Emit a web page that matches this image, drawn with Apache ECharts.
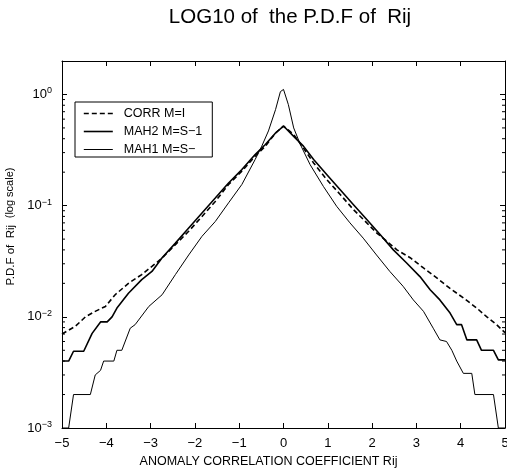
<!DOCTYPE html>
<html>
<head>
<meta charset="utf-8">
<script src="https://cdn.jsdelivr.net/npm/echarts@6/dist/echarts.min.js"></script>
<style>
  html, body { margin: 0; padding: 0; background: #fff; }
  #chart { width: 507px; height: 470px; }
</style>
</head>
<body>
<div id="chart"></div>
<script>
const FONT = 'Liberation Sans';

// [Rij, pdf] pairs
const corrPdf = [
  [-5, 0.007], [-4.7, 0.0082], [-4.47, 0.010], [-4.25, 0.0112], [-4.02, 0.0124],
  [-3.8, 0.0158], [-3.5, 0.020], [-3.2, 0.024], [-2.97, 0.0284], [-2.74, 0.0338],
  [-2.44, 0.0446], [-2.14, 0.0588], [-1.84, 0.080], [-1.54, 0.109], [-1.24, 0.155],
  [-0.94, 0.204], [-0.64, 0.278], [-0.41, 0.343], [-0.18, 0.45], [0, 0.52],
  [0.23, 0.436], [0.45, 0.33], [0.68, 0.242], [0.98, 0.171], [1.28, 0.126],
  [1.58, 0.092], [1.88, 0.070], [2.1, 0.057], [2.33, 0.048], [2.56, 0.040],
  [2.86, 0.034], [3.16, 0.0275], [3.46, 0.0224], [3.76, 0.018], [4.06, 0.0148],
  [4.36, 0.012], [4.59, 0.010], [4.81, 0.0085], [5, 0.0072]
];

const mah2Pdf = [
  [-5, 0.004], [-4.85, 0.004], [-4.74, 0.0049], [-4.51, 0.0049], [-4.32, 0.0071],
  [-4.13, 0.009], [-3.98, 0.009], [-3.87, 0.010], [-3.76, 0.012], [-3.5, 0.0163],
  [-3.2, 0.0216], [-2.97, 0.0256], [-2.74, 0.034], [-2.44, 0.046], [-2.14, 0.063],
  [-1.84, 0.086], [-1.54, 0.117], [-1.24, 0.16], [-0.94, 0.211], [-0.64, 0.288],
  [-0.41, 0.355], [-0.18, 0.45], [0, 0.52],
  [0.23, 0.42], [0.45, 0.343], [0.68, 0.26], [0.98, 0.19], [1.28, 0.139],
  [1.58, 0.102], [1.88, 0.075], [2.18, 0.055], [2.48, 0.040], [2.78, 0.0305],
  [3.08, 0.023], [3.31, 0.0175], [3.53, 0.0142], [3.76, 0.0108], [3.91, 0.0085],
  [4.02, 0.0085], [4.14, 0.0062], [4.36, 0.0062], [4.47, 0.005], [4.74, 0.005],
  [4.85, 0.0041], [5, 0.0041]
];

const mah1Pdf = [
  [-5, 0.001], [-4.85, 0.001], [-4.74, 0.002], [-4.36, 0.002], [-4.25, 0.003],
  [-4.13, 0.0033], [-4.06, 0.004], [-3.83, 0.004], [-3.76, 0.005], [-3.65, 0.005],
  [-3.46, 0.0079], [-3.35, 0.0085], [-3.04, 0.0124], [-2.74, 0.0158], [-2.44, 0.024],
  [-2.14, 0.036], [-1.84, 0.053], [-1.54, 0.072], [-1.24, 0.106], [-0.94, 0.155],
  [-0.64, 0.26], [-0.49, 0.343], [-0.34, 0.47], [-0.18, 0.73], [-0.07, 1.06], [0, 1.11],
  [0.11, 0.81], [0.23, 0.5], [0.38, 0.355], [0.6, 0.234], [0.9, 0.149],
  [1.2, 0.0986], [1.5, 0.070], [1.8, 0.051], [2.1, 0.036], [2.4, 0.0256],
  [2.7, 0.0188], [2.93, 0.0142], [3.16, 0.0112], [3.38, 0.0079], [3.53, 0.0062],
  [3.68, 0.006], [3.8, 0.005], [3.91, 0.004], [4.06, 0.0031], [4.25, 0.0031],
  [4.32, 0.002], [4.74, 0.002], [4.85, 0.001], [5, 0.001]
];

const seriesNames = ['CORR M=I', 'MAH2 M=S\u22121', 'MAH1 M=S\u2212'];
const lineStyles = [
  { color: '#000', width: 1.6, type: [5, 3] },
  { color: '#000', width: 1.6, type: 'solid' },
  { color: '#000', width: 1, type: 'solid' }
];

// minor tick positions of the log axis (2..9 x 10^k)
const minorTicks = [];
for (let k = -3; k <= 0; k++) {
  for (let m = 2; m <= 9; m++) {
    const v = m * Math.pow(10, k);
    if (v < 2) minorTicks.push([-5, v]);
  }
}

const minus = s => String(s).replace('-', '\u2212');

function logLabel(v) {
  const e = Math.log10(v);
  const r = Math.round(e);
  if (Math.abs(e - r) > 1e-6) return '';
  return '{b|10}{s|' + minus(r) + '}';
}

const chart = echarts.init(document.getElementById('chart'), null, { renderer: 'canvas' });

const axisLine = { show: true, onZero: false, lineStyle: { color: '#000', width: 1 } };
const tickIn = { show: true, inside: true, length: 5, lineStyle: { color: '#000', width: 1 } };

chart.setOption({
  animation: false,
  backgroundColor: '#fff',
  textStyle: { fontFamily: FONT, color: '#000' },
  title: {
    text: 'LOG10 of  the P.D.F of  Rij',
    left: 285,
    top: 2,
    textAlign: 'center',
    textStyle: { fontFamily: FONT, fontSize: 20.5, fontWeight: 'normal', color: '#000' }
  },
  legend: {
    data: seriesNames.map((n, i) => ({ name: n, lineStyle: lineStyles[i] })),
    orient: 'vertical',
    left: 75,
    top: 102,
    padding: [5, 10, 1, 8],
    itemGap: 5,
    itemWidth: 29,
    itemHeight: 12,
    borderColor: '#000',
    borderWidth: 1,
    borderRadius: 0,
    itemStyle: { opacity: 0 },
    textStyle: { fontFamily: FONT, fontSize: 12.5, color: '#000', padding: [0, 0, 0, 6] }
  },
  grid: { left: 62, right: 2, top: 61, bottom: 42, outerBoundsMode: 'none' },
  xAxis: [
    {
      type: 'value', min: -5, max: 5, interval: 1,
      axisLine: axisLine, axisTick: tickIn, splitLine: { show: false },
      axisLabel: { color: '#000', fontSize: 13, margin: 9, fontFamily: FONT, formatter: v => minus(v) },
      name: 'ANOMALY CORRELATION COEFFICIENT Rij',
      nameLocation: 'middle',
      nameGap: 27,
      nameTextStyle: { fontFamily: FONT, fontSize: 12.5, color: '#000', padding: [0, 30, 0, 0] }
    },
    {
      type: 'value', min: -5, max: 5, interval: 1, position: 'top',
      axisLine: axisLine, axisTick: tickIn, splitLine: { show: false },
      axisLabel: { show: false }
    }
  ],
  yAxis: [
    {
      type: 'log', logBase: 10, min: 0.001, max: 2,
      axisLine: axisLine, axisTick: tickIn, splitLine: { show: false },
      axisLabel: {
        margin: 10,
        formatter: logLabel,
        rich: {
          b: { fontFamily: FONT, fontSize: 13, color: '#000', lineHeight: 16 },
          s: { fontFamily: FONT, fontSize: 9, color: '#000', verticalAlign: 'top', lineHeight: 9 }
        }
      },
      name: '{a|P.D.F of  Rij}  {c|(log scale)}',
      nameLocation: 'middle',
      nameGap: 45,
      nameTextStyle: {
        fontFamily: FONT, color: '#000', padding: [0, 0, 0, 36],
        rich: {
          a: { fontFamily: FONT, fontSize: 11.5, color: '#000' },
          c: { fontFamily: FONT, fontSize: 11, color: '#000' }
        }
      }
    },
    {
      type: 'log', logBase: 10, min: 0.001, max: 2, position: 'right',
      axisLine: axisLine, axisTick: tickIn, splitLine: { show: false },
      axisLabel: { show: false }
    }
  ],
  series: [
    { name: seriesNames[0], type: 'line', data: corrPdf, symbol: 'none', lineStyle: lineStyles[0], itemStyle: { color: '#000' } },
    { name: seriesNames[1], type: 'line', data: mah2Pdf, symbol: 'none', lineStyle: lineStyles[1], itemStyle: { color: '#000' } },
    { name: seriesNames[2], type: 'line', data: mah1Pdf, symbol: 'none', lineStyle: lineStyles[2], itemStyle: { color: '#000' } },
    {
      name: 'minor', type: 'custom', silent: true, clip: false,
      data: minorTicks,
      renderItem: (params, api) => {
        const v = api.value(1);
        const p = api.coord([-5, v]);
        const q = api.coord([5, v]);
        return {
          type: 'group',
          children: [
            { type: 'line', shape: { x1: p[0], y1: p[1], x2: p[0] + 3, y2: p[1] }, style: { stroke: '#000', lineWidth: 1 } },
            { type: 'line', shape: { x1: q[0] - 3, y1: q[1], x2: q[0], y2: q[1] }, style: { stroke: '#000', lineWidth: 1 } }
          ]
        };
      }
    }
  ]
});
</script>
</body>
</html>
